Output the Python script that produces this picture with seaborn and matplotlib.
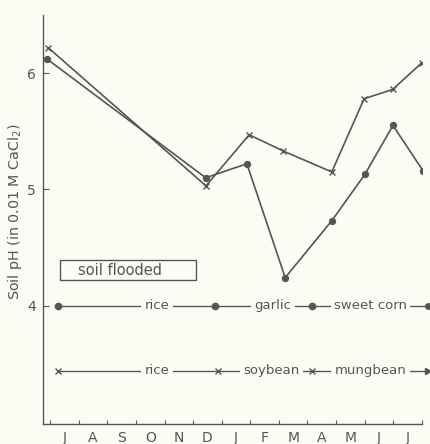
import numpy as np
import pandas as pd
import seaborn as sns
import matplotlib.pyplot as plt
from matplotlib.patches import Rectangle

# data (x = months from start of July)
months = ['J', 'A', 'S', 'O', 'N', 'D', 'J', 'F', 'M', 'A', 'M', 'J', 'J']
x_cross = [-0.07, 5.45, 6.96, 8.15, 9.85, 10.98, 11.98, 13.0]
ph_cross = [6.22, 5.03, 5.47, 5.33, 5.15, 5.78, 5.86, 6.09]
x_dot = [-0.1, 5.44, 6.88, 8.22, 9.85, 11.01, 11.99, 13.04]
ph_dot = [6.12, 5.10, 5.22, 4.24, 4.73, 5.13, 5.55, 5.16]

# cropping sequences
crops_dot = ['rice', 'garlic', 'sweet corn']
crops_cross = ['rice', 'soybean', 'mungbean']
change_dot = [0.28, 5.77, 9.16, 13.2]
change_cross = [0.28, 5.87, 9.16, 13.2]
label_x_dot = [3.74, 7.8, 11.2]
label_x_cross = [3.74, 7.75, 11.2]
row_y = [4.0, 3.44]

bg = '#fcfcf5'
ink = '#555555'

sns.set_style('white')
plt.rcParams['font.family'] = ['DejaVu Sans']
plt.rcParams['text.color'] = ink

fig = plt.figure(figsize=(4.31, 4.44), dpi=100, facecolor=bg)
ax = fig.add_axes([0.0998, 0.045, 0.879, 0.921])
ax.set_facecolor(bg)

df_cross = pd.DataFrame({'x': x_cross, 'ph': ph_cross})
df_dot = pd.DataFrame({'x': x_dot, 'ph': ph_dot})
sns.lineplot(data=df_cross, x='x', y='ph', sort=False, color=ink, lw=1.2,
             marker='x', markersize=5, mew=1.0, mec=ink, ax=ax)
sns.lineplot(data=df_dot, x='x', y='ph', sort=False, color=ink, lw=1.2,
             marker='o', markersize=4.5, mec=ink, mfc=ink, ax=ax)

# crop sequence rows
def crop_row(changes, labels, lx, y, marker, end_marker):
    ax.plot([changes[0], changes[-1]], [y, y], color=ink, lw=1.0, clip_on=False, zorder=2)
    ax.plot(changes[:-1], [y] * (len(changes) - 1), ls='none', marker=marker,
            ms=4.5 if marker == 'o' else 4, mew=1.0, color=ink, clip_on=False, zorder=3)
    ax.plot([changes[-1]], [y], ls='none', marker=end_marker, ms=4, color=ink,
            clip_on=False, zorder=3)
    for t, xx in zip(labels, lx):
        ax.text(xx, y, t, ha='center', va='center', fontsize=9.5, color=ink, zorder=4,
                bbox=dict(boxstyle='square,pad=0.25', fc=bg, ec='none'))

crop_row(change_dot, crops_dot, label_x_dot, row_y[0], 'o', 'o')
crop_row(change_cross, crops_cross, label_x_cross, row_y[1], 'x', '>')

# soil flooded box
ax.add_patch(Rectangle((0.35, 4.22), 4.75, 0.17, fill=False, ec=ink, lw=1.0))
ax.text(0.98, 4.305, 'soil flooded', ha='left', va='center', fontsize=10.5, color=ink)

ax.set_xlim(-0.25, 13)
ax.set_ylim(2.98, 6.5)
ax.set_xticks(np.arange(0, 14))
ax.set_xticklabels([])
ax.set_xticks(np.arange(len(months)) + 0.5, minor=True)
ax.set_xticklabels(months, minor=True, fontsize=10, color=ink)
ax.tick_params(axis='x', which='major', direction='in', length=3, width=0.8, color=ink, bottom=True)
ax.tick_params(axis='x', which='minor', length=0, pad=5, bottom=True)
ax.set_yticks([4, 5, 6])
ax.set_yticklabels(['4', '5', '6'], fontsize=10, color=ink)
ax.tick_params(axis='y', direction='in', length=4, width=0.8, color=ink, pad=5, left=True)
ax.set_xlabel('')
ax.set_ylabel('Soil pH (in 0.01 M CaCl$_2$)', fontsize=10.3, color=ink)
ax.yaxis.set_label_coords(-0.05, 0.52)

sns.despine(ax=ax)
for s in ['left', 'bottom']:
    ax.spines[s].set_color(ink)
    ax.spines[s].set_linewidth(1.0)

fig.savefig('out.png', dpi=100, facecolor=bg)
